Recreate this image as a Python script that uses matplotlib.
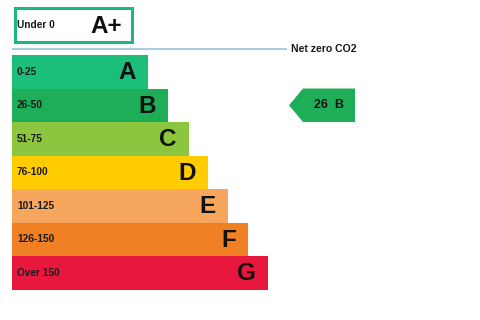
import matplotlib
matplotlib.use("Agg")
import matplotlib.pyplot as plt
from matplotlib.patches import Rectangle, Polygon

plt.rcParams['font.family'] = ['Liberation Sans', 'DejaVu Sans']

bands = ["A", "B", "C", "D", "E", "F", "G"]
ranges = ["0-25", "26-50", "51-75", "76-100", "101-125", "126-150", "Over 150"]
lengths = [136, 156, 177, 196, 216, 236, 256]
colors = ["#1cbf7a", "#1fae58", "#8cc63f", "#ffcc00", "#f7a65e", "#ef8023", "#e8173e"]
top_band = "A+"
top_range = "Under 0"
current_value = 26
current_band = "B"
net_zero_label = "Net zero CO2"

fig = plt.figure(figsize=(4.8, 3.2), dpi=100)
ax = fig.add_axes([0, 0, 1, 1])
ax.set_xlim(0, 480)
ax.set_ylim(7.41, -2.142)
ax.axis("off")

left = 12
ys = list(range(len(bands)))
ax.barh(ys, lengths, height=1.0, left=left, color=colors, edgecolor="none")
for y, b, r, L in zip(ys, bands, ranges, lengths):
    ax.text(left + 5, y, r, fontsize=7.3, fontweight="bold", color="#1a1a1a",
            ha="left", va="center")
    ax.text(left + L - 12, y + 0.03, b, fontsize=17.5, fontweight="bold", color="#111111",
            ha="right", va="center")

# A+ box
ax.add_patch(Rectangle((14.5, -1.90), 117, 1.01, facecolor="white",
                       edgecolor="#1db87d", lw=2.2))
ax.text(17, -1.395, top_range, fontsize=7.3, fontweight="bold", color="#1a1a1a",
        ha="left", va="center")
ax.text(106, -1.36, top_band, fontsize=17.5, fontweight="bold", color="#111111",
        ha="center", va="center")

# net zero line
ax.plot([12, 287], [-0.69, -0.69], color="#a9cde2", lw=1.5, solid_capstyle="butt")
ax.text(291, -0.69, net_zero_label, fontsize=7.6, fontweight="bold", color="#1a1a1a",
        ha="left", va="center")

# current rating arrow
ci = bands.index(current_band)
ax.add_patch(Polygon([(289, ci), (303, ci - 0.5), (355, ci - 0.5), (355, ci + 0.5),
                      (303, ci + 0.5)], closed=True, facecolor=colors[ci], edgecolor="none"))
ax.text(329, ci, f"{current_value}  {current_band}", fontsize=9, fontweight="bold",
        color="#111111", ha="center", va="center")

fig.savefig("out.png", dpi=100, facecolor="white")
